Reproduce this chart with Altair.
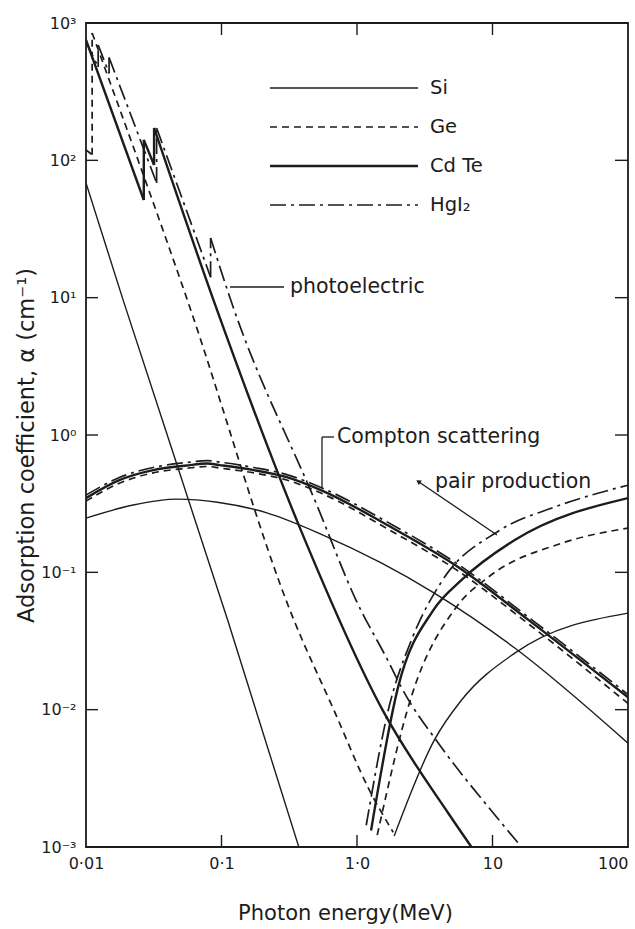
import altair as alt
import pandas as pd

INK = "#1c1c1c"
FONT = "DejaVu Sans"

# ---------------- axis ticks ----------------
x_ticks = [0.01, 0.1, 1, 10, 100]
x_tick_labels = ["0·01", "0·1", "1·0", "10", "100"]
x_tick_exp = [-2, -1, 0, 1, 2]
y_ticks = [0.001, 0.01, 0.1, 1, 10, 100, 1000]
y_tick_labels = ["10⁻³", "10⁻²", "10⁻¹", "10⁰", "10¹", "10²", "10³"]
y_tick_exp = [-3, -2, -1, 0, 1, 2, 3]

materials = ["Si", "Ge", "CdTe", "HgI2"]
material_labels = ["Si", "Ge", "Cd Te", "HgI₂"]

# ---------------- photoelectric (E in MeV, alpha in cm^-1) ----------------
si_photo_E = [0.01, 0.0188, 0.111, 0.372]
si_photo_a = [68.4, 9.6, 0.045, 0.001]

ge_photo_E = [0.01, 0.0111, 0.0111, 0.056, 0.342, 0.676, 1.21, 1.85]
ge_photo_a = [119, 110, 846, 9.6, 0.045, 0.0099, 0.0027, 0.00128]

cdte_photo_E = [0.01, 0.0267, 0.0267, 0.0318, 0.0318, 0.0873, 0.385, 1.56, 4.72, 6.99]
cdte_photo_a = [752, 51.4, 141, 92.5, 172, 9.6, 0.203, 0.00975, 0.00176, 0.001]

hgi2_photo_E = [0.01, 0.0123, 0.0123, 0.0148, 0.0148, 0.0332, 0.0332, 0.0831, 0.0831,
                0.117, 0.506, 0.983, 1.73, 2.12, 4.19, 9.33, 16.4]
hgi2_photo_a = [728, 479, 692, 430, 560, 68.4, 172, 14.1, 27.2,
                9.6, 0.308, 0.0628, 0.0218, 0.0146, 0.00533, 0.00195, 0.001]

# ---------------- Compton scattering ----------------
compton_E = [0.01, 0.0176, 0.0313, 0.0551, 0.0787, 0.0967, 0.173, 0.303, 0.541, 1.79, 5.60, 18.5, 100]
cdte_compton_a = [0.347, 0.469, 0.555, 0.600, 0.620, 0.604, 0.555, 0.493, 0.397, 0.213, 0.109, 0.0449, 0.0123]
ge_compton_a = [0.33, 0.445, 0.53, 0.572, 0.59, 0.575, 0.53, 0.47, 0.378, 0.20, 0.102, 0.042, 0.0111]
hgi2_compton_a = [0.365, 0.49, 0.58, 0.63, 0.65, 0.635, 0.58, 0.515, 0.415, 0.224, 0.114, 0.047, 0.0129]

si_compton_E = [0.01, 0.0223, 0.0472, 0.0933, 0.219, 0.541, 1.51, 3.72, 14.6, 100]
si_compton_a = [0.248, 0.309, 0.341, 0.324, 0.270, 0.190, 0.117, 0.0706, 0.0281, 0.0057]

# ---------------- pair production ----------------
si_pair_E = [1.88, 3.72, 5.89, 14.6, 100]
si_pair_a = [0.0012, 0.0060, 0.0117, 0.0258, 0.0505]

ge_pair_E = [1.41, 2.51, 5.41, 9.33, 32.4, 100]
ge_pair_a = [0.00122, 0.0123, 0.0558, 0.0923, 0.163, 0.21]

cdte_pair_E = [1.27, 2.01, 3.66, 5.89, 14.6, 100]
cdte_pair_a = [0.00132, 0.0146, 0.0531, 0.0877, 0.172, 0.347]

hgi2_pair_E = [1.17, 1.70, 2.55, 4.19, 11.1, 28.8, 100]
hgi2_pair_a = [0.00144, 0.0099, 0.033, 0.085, 0.2, 0.299, 0.431]

series = [
    ("Si", "photoelectric", si_photo_E, si_photo_a),
    ("Ge", "photoelectric", ge_photo_E, ge_photo_a),
    ("CdTe", "photoelectric", cdte_photo_E, cdte_photo_a),
    ("HgI2", "photoelectric", hgi2_photo_E, hgi2_photo_a),
    ("Si", "compton", si_compton_E, si_compton_a),
    ("Ge", "compton", compton_E, ge_compton_a),
    ("CdTe", "compton", compton_E, cdte_compton_a),
    ("HgI2", "compton", compton_E, hgi2_compton_a),
    ("Si", "pair", si_pair_E, si_pair_a),
    ("Ge", "pair", ge_pair_E, ge_pair_a),
    ("CdTe", "pair", cdte_pair_E, cdte_pair_a),
    ("HgI2", "pair", hgi2_pair_E, hgi2_pair_a),
]

# split each series into smooth pieces and vertical absorption-edge jumps
smooth_rows, jump_rows = [], []
for mat, proc, Es, As in series:
    seg = 0
    k = 0
    for i, (e, a) in enumerate(zip(Es, As)):
        if i > 0 and e == Es[i - 1]:
            key = f"{proc}-jump{i}"
            jump_rows.append({"material": mat, "piece": key, "E": Es[i - 1], "alpha": As[i - 1], "idx": 0})
            jump_rows.append({"material": mat, "piece": key, "E": e, "alpha": a, "idx": 1})
            seg += 1
            k = 0
        smooth_rows.append({"material": mat, "piece": f"{proc}-{seg}", "E": e, "alpha": a, "idx": k})
        k += 1
smooth_df = pd.DataFrame(smooth_rows)
jump_df = pd.DataFrame(jump_rows)

styles = {
    "Si": {"strokeWidth": 1.4},
    "Ge": {"strokeWidth": 1.7, "strokeDash": [7, 5]},
    "CdTe": {"strokeWidth": 2.4},
    "HgI2": {"strokeWidth": 1.7, "strokeDash": [16, 5, 3, 5]},
}

W, H = 542, 824


def expr_from(exps, labels):
    e = "''"
    for k, lab in zip(reversed(exps), reversed(labels)):
        e = f"round(log(datum.value)/LN10) == {k} ? '{lab}' : " + e
    return e


xscale = alt.Scale(type="log", domain=[0.01, 100])
yscale = alt.Scale(type="log", domain=[0.001, 1000])
xaxis = alt.Axis(values=x_ticks, labelExpr=expr_from(x_tick_exp, x_tick_labels),
                 title="Photon energy(MeV)", grid=False, ticks=False, domain=False,
                 labelFontSize=16, labelPadding=8, labelColor=INK, labelFont=FONT,
                 labelAlign={"condition": {"test": "datum.value >= 99", "value": "right"}, "value": "center"},
                 titleFontSize=21, titleFont=FONT, titleColor=INK, titleFontWeight="normal",
                 titleX=259, titleY=55, titleBaseline="top", labelFlush=False)
yaxis = alt.Axis(values=y_ticks, labelExpr=expr_from(y_tick_exp, y_tick_labels),
                 title="Adsorption coefficient, α (cm⁻¹)", grid=False, ticks=False, domain=False,
                 labelFontSize=16, labelPadding=10, labelColor=INK, labelFont=FONT,
                 titleFontSize=22.5, titleFont=FONT, titleColor=INK, titleFontWeight="normal",
                 titleX=-60, titleY=422, titleAngle=-90, titleBaseline="middle", labelFlush=False)

enc = dict(x=alt.X("E:Q", scale=xscale, axis=xaxis),
           y=alt.Y("alpha:Q", scale=yscale, axis=yaxis),
           detail="piece:N", order="idx:Q")

layers = []
for m in materials:
    layers.append(
        alt.Chart(smooth_df).transform_filter(alt.datum.material == m)
        .mark_line(color=INK, clip=True, interpolate="monotone", **styles[m])
        .encode(**enc)
    )
    layers.append(
        alt.Chart(jump_df).transform_filter(alt.datum.material == m)
        .mark_line(color=INK, clip=True, **styles[m])
        .encode(**enc)
    )

# inward ticks on all four sides
xt = pd.DataFrame({"E": x_ticks[1:-1]})
yt = pd.DataFrame({"alpha": y_ticks[1:-1]})
tick_style = dict(color=INK, strokeWidth=1.4)
layers.append(alt.Chart(xt).mark_rule(**tick_style).encode(
    x=alt.X("E:Q", scale=xscale, axis=xaxis), y=alt.value(H), y2=alt.value(H - 12)))
layers.append(alt.Chart(xt).mark_rule(**tick_style).encode(
    x=alt.X("E:Q", scale=xscale, axis=xaxis), y=alt.value(0), y2=alt.value(12)))
layers.append(alt.Chart(yt).mark_rule(**tick_style).encode(
    y=alt.Y("alpha:Q", scale=yscale, axis=yaxis), x=alt.value(0), x2=alt.value(12)))
layers.append(alt.Chart(yt).mark_rule(**tick_style).encode(
    y=alt.Y("alpha:Q", scale=yscale, axis=yaxis), x=alt.value(W), x2=alt.value(W - 13)))

# legend drawn inside the plot
leg_df = pd.DataFrame({"material": materials, "label": material_labels})
for i, m in enumerate(materials):
    yy = 65 + 39 * i
    base = alt.Chart(leg_df).transform_filter(alt.datum.material == m)
    layers.append(base.mark_rule(color=INK, **styles[m]).encode(
        x=alt.value(184), x2=alt.value(332), y=alt.value(yy)))
    layers.append(base.mark_text(align="left", baseline="middle", fontSize=19.5, font=FONT,
                                 color=INK).encode(x=alt.value(344), y=alt.value(yy), text="label:N"))

# annotations
ann_texts = ["photoelectric", "Compton scattering", "pair production"]
ann_df = pd.DataFrame({"t": ann_texts})
ann_pos = [(204, 264), (251, 414), (349, 459)]
for t, (ax, ay) in zip(ann_texts, ann_pos):
    layers.append(alt.Chart(ann_df).transform_filter(alt.datum.t == t)
                  .mark_text(align="left", baseline="middle", fontSize=20.5, font=FONT, color=INK)
                  .encode(x=alt.value(ax), y=alt.value(ay), text="t:N"))

conn = pd.DataFrame({"k": [0]})
rule_style = dict(color=INK, strokeWidth=1.3)
layers.append(alt.Chart(conn).mark_rule(**rule_style).encode(
    x=alt.value(144), x2=alt.value(198), y=alt.value(264)))
layers.append(alt.Chart(conn).mark_rule(**rule_style).encode(
    x=alt.value(236), x2=alt.value(248), y=alt.value(414)))
layers.append(alt.Chart(conn).mark_rule(**rule_style).encode(
    x=alt.value(236), y=alt.value(414), y2=alt.value(465)))
layers.append(alt.Chart(conn).mark_rule(**rule_style).encode(
    x=alt.value(333), y=alt.value(459), x2=alt.value(411), y2=alt.value(512)))
layers.append(alt.Chart(conn).mark_point(shape="triangle", angle=304, size=30, filled=True,
                                         color=INK, opacity=1).encode(
    x=alt.value(333), y=alt.value(459)))

chart = alt.layer(*layers).properties(
    width=W, height=H,
    autosize=alt.AutoSizeParams(type="none"),
    padding={"left": 86, "top": 23, "right": 7, "bottom": 82},
    background="white",
).configure_view(stroke=INK, strokeWidth=1.8)

chart.save("out.html", embed_options={"renderer": "svg", "actions": False})
